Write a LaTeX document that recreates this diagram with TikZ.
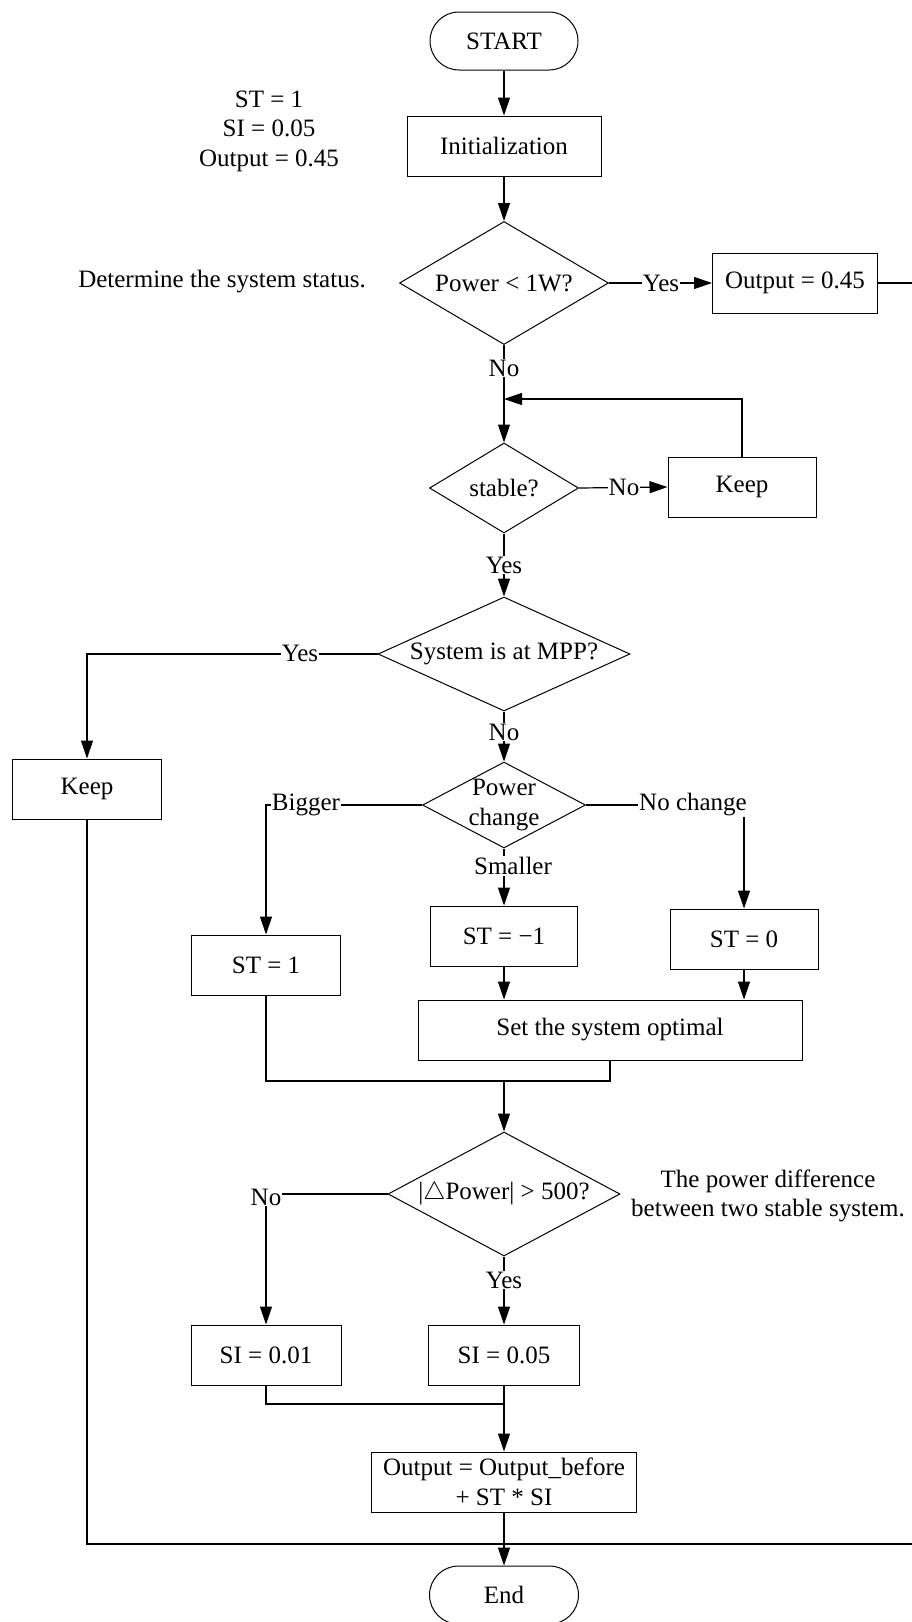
\documentclass[tikz,border=0pt]{standalone}
\usepackage{fontspec}
\setmainfont{Liberation Serif}
\usetikzlibrary{shapes.geometric,arrows.meta}

\tikzset{
  base/.style={font=\fontsize{25}{29.5}\selectfont},
  box/.style={draw, line width=1pt, rectangle, inner sep=0pt, align=center},
  term/.style={draw, line width=1pt, rectangle, rounded corners=29pt, inner sep=0pt},
  decision/.style={draw, line width=1pt, diamond, inner sep=0pt},
  conn/.style={line width=1.2pt},
  arr/.style={line width=1.2pt, -{Triangle[length=18pt,width=12pt]}},
  lbl/.style={fill=white, inner sep=1pt},
  note/.style={align=center, inner sep=0pt}
}

\begin{document}
\begin{tikzpicture}[x=1pt, y=-1pt, base]
\useasboundingbox (0,0) rectangle (912,1622);
\fill[white] (0,0) rectangle (912,1622);

% main column
\node[term, minimum width=148pt, minimum height=58pt] (start) at (504,41) {START};
\node[box, minimum width=194pt, minimum height=60pt] (init) at (504,146) {Initialization};
\node[decision, minimum width=209pt, minimum height=123pt] (dlow) at (504,283) {};
\node (dlowtxt) at (dlow.center) {Power < 1W?};
\node[box, minimum width=165pt, minimum height=60pt] (out45) at (795,283) {Output = 0.45};

\node[decision, minimum width=149pt, minimum height=90pt] (dstab) at (504,488) {};
\node (dstabtxt) at (dstab.center) {stable?};
\node[box, minimum width=148pt, minimum height=60pt] (keepa) at (742,487) {Keep};

\node[decision, minimum width=252pt, minimum height=114pt] (dmpp) at (504,654) {};
\node (dmpptxt) at (dmpp.center) {System is at MPP?};
\node[box, minimum width=149pt, minimum height=60pt] (keepb) at (87,789) {Keep};

\node[decision, minimum width=163pt, minimum height=86pt] (dpc) at (504,805) {};
\node[align=center, inner sep=0pt] (dpctxt) at (dpc.center) {Power\\change};

\node[box, minimum width=149pt, minimum height=60pt] (stp) at (266,965) {ST = 1};
\node[box, minimum width=147pt, minimum height=60pt] (stm) at (504,936) {ST = −1};
\node[box, minimum width=148pt, minimum height=60pt] (stz) at (744,939) {ST = 0};
\node[box, minimum width=384pt, minimum height=60pt] (setopt) at (610,1030) {Set the system optimal};

\node[decision, minimum width=232pt, minimum height=124pt] (ddp) at (504,1194) {};
\node (ddptxt) at (ddp.center) {|$\triangle$Power| > 500?};

\node[box, minimum width=150pt, minimum height=60pt] (sia) at (266,1355) {SI = 0.01};
\node[box, minimum width=151pt, minimum height=60pt] (sib) at (504,1355) {SI = 0.05};
\node[box, minimum width=265pt, minimum height=60pt] (outf) at (504,1482) {Output = Output\_before\\+ ST * SI};
\node[term, minimum width=149pt, minimum height=58pt] (fin) at (504,1595) {End};

% side notes
\node[note] (initnote) at (269,131) {ST = 1\\SI = 0.05\\Output = 0.45};
\node[note] (statnote) at (222,282) {Determine the system status.};
\node[note] (diffnote) at (768,1196) {The power difference\\between two stable system.};

% helper points
\coordinate (loopin) at (504,399);
\coordinate (bigc) at (266,805);
\coordinate (noc) at (744,805);
\coordinate (mergea) at (504,1081);
\coordinate (mergeb) at (504,1404);
\coordinate (bottom) at (504,1544);
\coordinate (rightc) at (930,283);

% connectors
\draw[arr] (start) -- (init);
\draw[arr] (init) -- (dlow);
\draw[arr] (dlow.east) -- (out45.west);
\draw[conn] (out45.east) -- (rightc) |- (bottom);
\draw[arr] (dlow.south) -- (dstab.north);
\draw[arr] (dstab.east) -- (keepa.west);
\draw[arr] (keepa.north) |- (loopin);
\draw[arr] (dstab.south) -- (dmpp.north);
\draw[arr] (dmpp.west) -| (keepb.north);
\draw[conn] (keepb.south) |- (bottom);
\draw[arr] (dmpp.south) -- (dpc.north);
\draw[arr] (dpc.west) -- (bigc) -- (stp.north);
\draw[arr] (dpc.east) -- (noc) -- (stz.north);
\draw[arr] (dpc.south) -- (stm.north);
\draw[arr] (stm.south) -- (stm.south |- setopt.north);
\draw[arr] (stz.south) -- (stz.south |- setopt.north);
\draw[conn] (stp.south) |- (mergea) -| (setopt.south);
\draw[arr] (mergea) -- (ddp.north);
\draw[arr] (ddp.west) -| (sia.north);
\draw[arr] (ddp.south) -- (sib.north);
\draw[conn] (sia.south) |- (mergeb);
\draw[arr] (sib.south) -- (outf.north);
\draw[arr] (outf.south) -- (fin.north);

% branch labels
\node[lbl] (ylow) at (661,283) {Yes};
\node[lbl] (nlow) at (504,368) {No};
\node[lbl] (nstab) at (624,487) {No};
\node[lbl] (ystab) at (504,565) {Yes};
\node[lbl] (ympp) at (300,653) {Yes};
\node[lbl] (nmpp) at (504,732) {No};
\node[lbl] (lbig) at (306,805) {Bigger};
\node[lbl] (lnoc) at (693,805) {No change};
\node[lbl, inner xsep=6pt] (lsmall) at (513,866) {Smaller};
\node[lbl] (ydp) at (504,1280) {Yes};
\node[lbl] (ndp) at (266,1197) {No};
\end{tikzpicture}
\end{document}
